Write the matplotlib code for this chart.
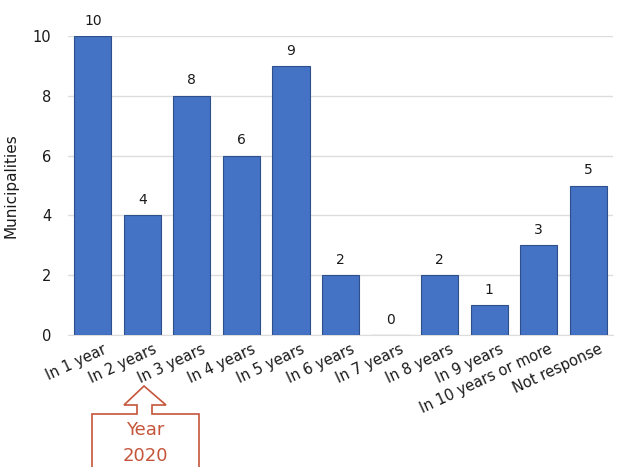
import numpy as np
import matplotlib.pyplot as plt
import matplotlib.transforms as mtransforms
from matplotlib.patches import Polygon

categories = ['In 1 year', 'In 2 years', 'In 3 years', 'In 4 years', 'In 5 years',
              'In 6 years', 'In 7 years', 'In 8 years', 'In 9 years',
              'In 10 years or more', 'Not response']
values = [10, 4, 8, 6, 9, 2, 0, 2, 1, 3, 5]

W, H = 627, 467
fig = plt.figure(figsize=(W / 100, H / 100), dpi=100)
ax = fig.add_axes([68 / W, 1 - 335 / H, (613 - 68) / W, (335 - 36) / H])

x = np.arange(len(categories))
ax.bar(x, values, width=0.75, color='#4472c4', edgecolor='#2f4f8a', linewidth=0.8, zorder=3)
for xi, v in zip(x, values):
    ax.annotate(str(v), (xi, v), xytext=(0, 6), textcoords='offset points',
                ha='center', va='bottom', fontsize=10, color='#1a1a1a')

ax.set_xlim(-0.5, len(categories) - 0.5)
ax.set_ylim(0, 10)
ax.set_yticks([0, 2, 4, 6, 8, 10])
ax.yaxis.grid(True, color='#dddddd', linewidth=1, zorder=0)
for s in ['top', 'right', 'left']:
    ax.spines[s].set_visible(False)
ax.spines['bottom'].set_color('#dddddd')
ax.tick_params(length=0, labelsize=10.5, colors='#1a1a1a')
ax.tick_params(axis='y', pad=12)
ax.set_xticks(x)
ax.set_xticklabels(categories, rotation=25, ha='right', rotation_mode='anchor')
ax.tick_params(axis='x', pad=5)
shift = mtransforms.ScaledTranslation(10 / 100, 0, fig.dpi_scale_trans)
for lab in ax.get_xticklabels():
    lab.set_transform(lab.get_transform() + shift)
ax.set_ylabel('Municipalities', fontsize=11, color='#1a1a1a', labelpad=10)

# callout: block arrow + box pointing at "In 2 years"
red = '#c5553a'
pts = [(92, 470), (92, 414), (137, 414), (137, 405), (124, 405), (144, 386),
       (166, 405), (152, 405), (152, 414), (199, 414), (199, 470)]
poly = Polygon([(px / W, 1 - py / H) for px, py in pts], closed=False,
               transform=fig.transFigure, fill=False, edgecolor=red, linewidth=1.2,
               clip_on=False)
fig.add_artist(poly)
fig.text(145 / W, 1 - 430 / H, 'Year', ha='center', va='center', fontsize=13, color=red)
fig.text(145 / W, 1 - 456 / H, '2020', ha='center', va='center', fontsize=13, color=red)

fig.savefig('out.png', dpi=100)
